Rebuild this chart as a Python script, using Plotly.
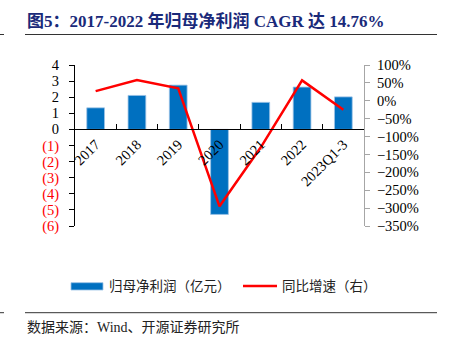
import plotly.graph_objects as go

categories = ["2017", "2018", "2019", "2020", "2021", "2022", "2023Q1-3"]
net_profit = [1.34, 2.11, 2.75, -5.28, 1.68, 2.63, 2.02]   # 亿元
yoy_growth = [27, 58, 35, -295, -130, 57, -25]             # %

left_ticks = [-6, -5, -4, -3, -2, -1, 0, 1, 2, 3, 4]
left_ticktext = [f"<span style='color:#FF0000'>({-v})</span>" if v < 0 else str(v) for v in left_ticks]

W, H = 450, 342
L, R, T, B = 75, 86, 65, 116
PW, PH = W - L - R, H - T - B

def px(x):
    return (x - L) / PW

def py(y):
    return (H - B - y) / PH

SERIF = "Liberation Serif, Noto Sans CJK SC"
CJK = "Liberation Serif, Noto Sans CJK SC"

fig = go.Figure()
fig.add_trace(go.Bar(
    x=categories, y=net_profit, name="归母净利润（亿元）",
    marker=dict(color="#0070C0", line=dict(color="#9DC3E6", width=0.8)),
    width=0.43, yaxis="y", showlegend=False,
))
fig.add_trace(go.Scatter(
    x=categories, y=yoy_growth, name="同比增速（右）", mode="lines",
    line=dict(color="#FF0000", width=2.5), yaxis="y2", showlegend=False,
))

ymin, ymax = -6, 4
fig.update_layout(
    width=W, height=H,
    margin=dict(l=L, r=R, t=T, b=B, pad=0),
    paper_bgcolor="white", plot_bgcolor="white",
    font=dict(family=SERIF, size=14, color="#000000"),
    xaxis=dict(
        type="category", range=[-0.5, len(categories) - 0.5],
        anchor="free", position=(0 - ymin) / (ymax - ymin),
        showline=True, linecolor="#000000", linewidth=1,
        ticks="inside", tickson="boundaries", ticklen=5, tickcolor="#000000",
        tickangle=-45, tickfont=dict(family=SERIF, size=14.5, color="#000000"),
        showgrid=False, zeroline=False,
    ),
    yaxis=dict(
        range=[ymin, ymax], tickvals=left_ticks, ticktext=left_ticktext,
        showline=True, linecolor="#000000", linewidth=1,
        ticks="outside", ticklen=5, tickcolor="#000000", ticklabelstandoff=7,
        showgrid=False, zeroline=False,
        tickfont=dict(family=SERIF, size=14.5, color="#000000"),
    ),
    yaxis2=dict(
        range=[-350, 100], dtick=50, ticksuffix="%", overlaying="y", side="right",
        showline=True, linecolor="#A6A6A6", linewidth=1,
        ticks="outside", ticklen=5, tickcolor="#A6A6A6", ticklabelstandoff=4,
        showgrid=False, zeroline=False,
        tickfont=dict(family=SERIF, size=14.5, color="#000000"),
    ),
)

shapes = [
    dict(type="line", xref="paper", yref="paper", x0=px(25), x1=px(437), y0=py(34.5), y1=py(34.5),
         line=dict(color="#333333", width=1)),
    dict(type="line", xref="paper", yref="paper", x0=px(0), x1=px(4), y0=py(34.5), y1=py(34.5),
         line=dict(color="#333333", width=1)),
    dict(type="line", xref="paper", yref="paper", x0=px(25), x1=px(437), y0=py(312.7), y1=py(312.7),
         line=dict(color="#333333", width=1)),
    dict(type="line", xref="paper", yref="paper", x0=px(0), x1=px(4), y0=py(312.7), y1=py(312.7),
         line=dict(color="#333333", width=1)),
    # legend symbols
    dict(type="rect", xref="paper", yref="paper", x0=px(71), x1=px(103), y0=py(290), y1=py(282.7),
         fillcolor="#0070C0", line=dict(color="#9DC3E6", width=0.8)),
    dict(type="line", xref="paper", yref="paper", x0=px(243), x1=px(277), y0=py(286), y1=py(286),
         line=dict(color="#FF0000", width=2.5)),
]
fig.update_layout(shapes=shapes)

annotations = [
    dict(text="<b>图5：2017-2022 年归母净利润 CAGR 达 14.76%</b>", xref="paper", yref="paper",
         x=px(25), y=py(21), xanchor="left", yanchor="middle", showarrow=False,
         font=dict(family=SERIF, size=17, color="#1A2A7A")),
    dict(text="归母净利润（亿元）", xref="paper", yref="paper", x=px(107), y=py(286),
         xanchor="left", yanchor="middle", showarrow=False,
         font=dict(family=CJK, size=13.5, color="#222222")),
    dict(text="同比增速（右）", xref="paper", yref="paper", x=px(280), y=py(286),
         xanchor="left", yanchor="middle", showarrow=False,
         font=dict(family=CJK, size=13.5, color="#222222")),
    dict(text="数据来源：Wind、开源证券研究所", xref="paper", yref="paper", x=px(25), y=py(327.7),
         xanchor="left", yanchor="middle", showarrow=False,
         font=dict(family=CJK, size=14, color="#222222")),
]
fig.update_layout(annotations=annotations)

fig.write_html("out.html")
